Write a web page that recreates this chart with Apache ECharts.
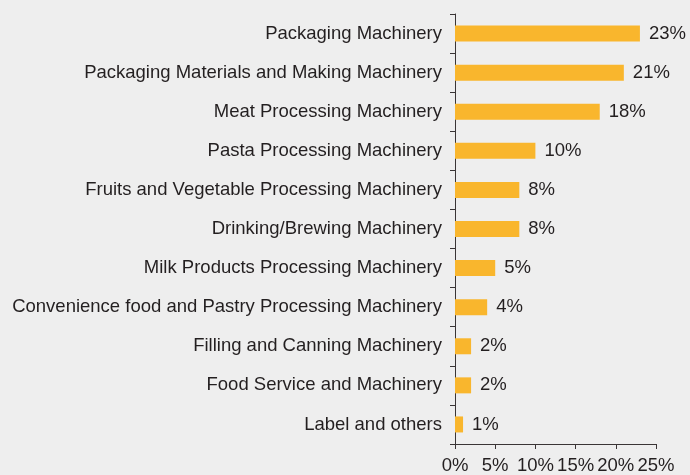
<!DOCTYPE html>
<html>
<head>
<meta charset="utf-8">
<script src="https://cdn.jsdelivr.net/npm/echarts@6/dist/echarts.min.js"></script>
<style>
  html, body { margin: 0; padding: 0; background: #eeeeee; }
  #main { width: 690px; height: 475px; }
</style>
</head>
<body>
<div id="main"></div>
<script>
var categories = [
    'Packaging Machinery',
    'Packaging Materials and Making Machinery',
    'Meat Processing Machinery',
    'Pasta Processing Machinery',
    'Fruits and Vegetable Processing Machinery',
    'Drinking/Brewing Machinery',
    'Milk Products Processing Machinery',
    'Convenience food and Pastry Processing Machinery',
    'Filling and Canning Machinery',
    'Food Service and Machinery',
    'Label and others'
];
var shares = [23, 21, 18, 10, 8, 8, 5, 4, 2, 2, 1];
var tickLabels = ['0%', '5%', '10%', '15%', '20%', '25%'];

var chartDom = document.getElementById('main');
var myChart = echarts.init(chartDom);
var option;

var textColor = '#231f20';
var axisColor = '#3a3536';
var font = 'Liberation Sans, Arial, sans-serif';

option = {
    backgroundColor: '#eeeeee',
    animation: false,
    grid: {
        left: 455,
        right: 34,
        top: 14,
        bottom: 31,
        containLabel: false
    },
    xAxis: {
        type: 'value',
        min: 0,
        max: 25,
        interval: 5,
        splitLine: { show: false },
        axisLine: { show: true, lineStyle: { color: axisColor, width: 1 } },
        axisTick: { show: true, length: 5, lineStyle: { color: axisColor } },
        axisLabel: {
            color: textColor,
            fontFamily: font,
            fontSize: 18.5,
            margin: 12,
            formatter: function (v) {
                return tickLabels[Math.round(v / 5)];
            }
        }
    },
    yAxis: {
        type: 'category',
        inverse: true,
        data: categories,
        axisLine: { show: true, lineStyle: { color: axisColor, width: 1 } },
        axisTick: { show: true, length: 5, lineStyle: { color: axisColor } },
        axisLabel: {
            color: textColor,
            fontFamily: font,
            fontSize: 18.5,
            margin: 13
        }
    },
    series: [
        {
            type: 'bar',
            data: shares,
            barWidth: 16,
            itemStyle: { color: '#f9b62d' },
            label: {
                show: true,
                position: 'right',
                distance: 9,
                color: textColor,
                fontFamily: font,
                fontSize: 18.5,
                formatter: '{c}%'
            }
        }
    ]
};

option && myChart.setOption(option);
</script>
</body>
</html>
